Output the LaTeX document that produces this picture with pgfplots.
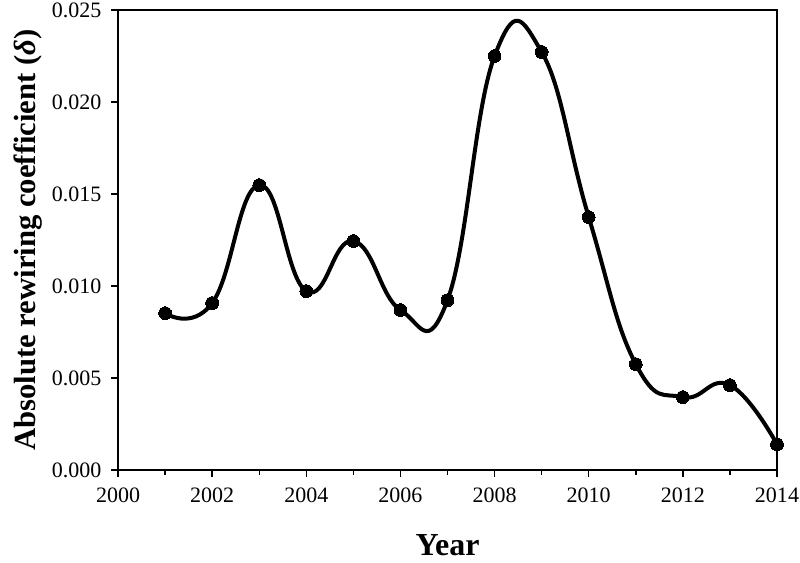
\documentclass[border=0pt]{standalone}
\usepackage{fontspec}
\setmainfont{Liberation Serif}
\usepackage{pgfplots}
\pgfplotsset{compat=1.18}
\usetikzlibrary{calc}

\begin{document}
\begin{tikzpicture}
\begin{axis}[
  scale only axis,
  width=494pt, height=345pt,
  xmin=2000, xmax=2014,
  ymin=0, ymax=0.025,
  xtick={2000,2002,...,2014},
  minor xtick={2001,2003,...,2013},
  ytick={0,0.005,...,0.025},
  axis line style={line width=1.1pt},
  tick style={line width=1.1pt, black},
  major tick length=5pt,
  minor tick length=3.5pt,
  tick pos=left,
  tick align=outside,
  tick label style={font=\fontsize{16.5}{19}\selectfont},
  /pgf/number format/assume math mode=true,
  x tick label style={/pgf/number format/1000 sep={}, yshift=-5pt},
  y tick label style={/pgf/number format/fixed, /pgf/number format/fixed zerofill,
    /pgf/number format/precision=3, xshift=-4pt},
  scaled y ticks=false,
  xlabel={\textbf{Year}},
  ylabel={\textbf{Absolute rewiring coefficient (\textit{δ})}},
  xlabel style={font=\fontsize{24}{28}\selectfont, at={(axis description cs:0.5,0)}, anchor=center, yshift=-56pt},
  ylabel style={font=\fontsize{23}{27}\selectfont},
  clip=false,
]
\addplot[black, line width=3pt, smooth, tension=0.78,
  mark=*, mark options={fill=black, line width=0pt, scale=2.4}] coordinates {
  (2001,0.00853) (2002,0.00908) (2003,0.01549) (2004,0.00973) (2005,0.01245)
  (2006,0.00870) (2007,0.00924) (2008,0.02250) (2009,0.02272) (2010,0.01375)
  (2011,0.00576) (2012,0.00397) (2013,0.00462) (2014,0.00141) };
\end{axis}
\pgfresetboundingbox
\path[use as bounding box] ($(current axis.south west)+(-88.5pt,-69pt)$) rectangle ($(current axis.north east)+(17.25pt,7.5pt)$);
\end{tikzpicture}
\end{document}
